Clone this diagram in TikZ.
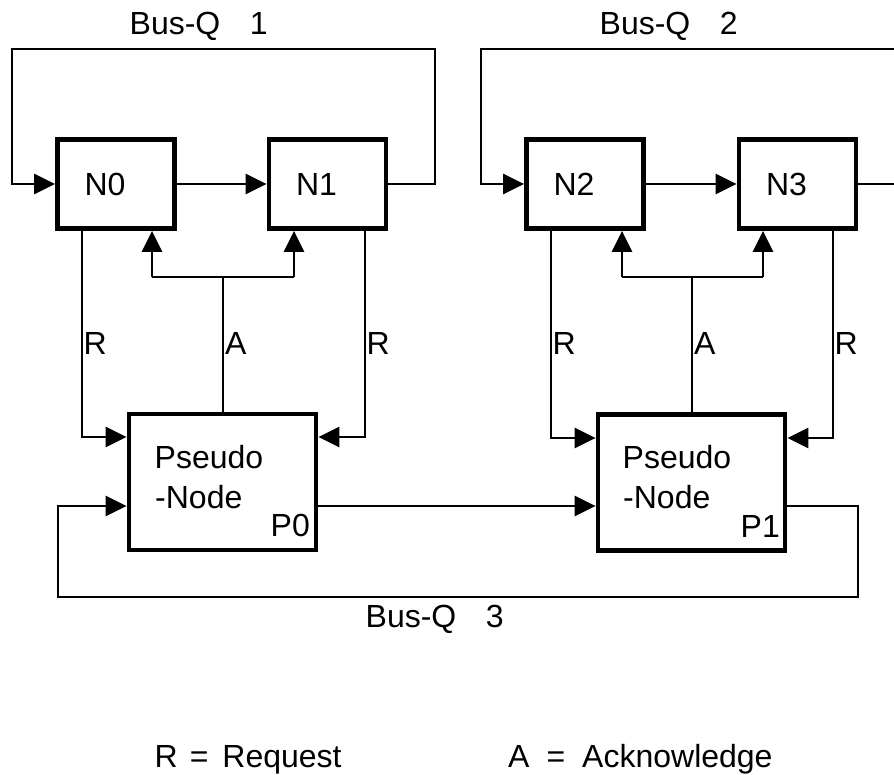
\documentclass[tikz,border=0pt]{standalone}
\usepackage{fontspec}
\setmainfont{Liberation Sans}
\usetikzlibrary{arrows.meta}
\begin{document}
\begin{tikzpicture}[x=1pt,y=-1pt,
  conn/.style={line width=2.6pt},
  arr/.style={conn,-{Triangle[length=21pt,width=20pt]}},
  unit/.style={draw,line width=4.8pt,minimum height=89pt,text width=63pt,
    inner xsep=27pt,inner ysep=0pt,align=left,font=\fontsize{32}{38}\selectfont},
  pseudo/.style={draw,line width=4.8pt,minimum width=187pt,minimum height=136pt,inner sep=0pt},
  txt/.style={font=\fontsize{32}{38}\selectfont,inner sep=0pt,anchor=base west}]
\useasboundingbox (0,0) rectangle (894,775);

% processing nodes
\node[unit] (n0) at (116,184) {N0};
\node[unit] (n1) at (327.5,184) {N1};
\node[unit] (n2) at (585,184) {N2};
\node[unit] (n3) at (797.5,184) {N3};

% pseudo-nodes
\node[pseudo] (p0) at (222.5,482) {};
\node[pseudo] (p1) at (691.5,482.5) {};
\node[txt] (p0a) at (154.5,468) {Pseudo};
\node[txt] (p0b) at (155,508) {-Node};
\node[txt] (p0c) at (270.5,536) {P0};
\node[txt] (p1a) at (622.5,468) {Pseudo};
\node[txt] (p1b) at (623,508) {-Node};
\node[txt] (p1c) at (740.5,537) {P1};

% bus loop 1
\coordinate (q1l) at (12,49);
\coordinate (q1r) at (435,49);
\draw[arr] (n0.east) -- (n1.west);
\draw[arr] (n1.east) -| (q1r) -- (q1l) |- (n0.west);
\node[txt] (bq1) at (129.5,35) {Bus-Q\hspace{0.92em}1};

% bus loop 2 (continues past the right edge)
\coordinate (q2e) at (894,49);
\coordinate (q2l) at (481,49);
\coordinate (q2x) at (894,184);
\draw[arr] (n2.east) -- (n3.west);
\draw[conn] (n3.east) -- (q2x);
\draw[arr] (q2e) -- (q2l) |- (n2.west);
\node[txt] (bq2) at (599.5,35) {Bus-Q\hspace{0.92em}2};

% bus loop 3
\coordinate (b3y) at (0,506);
\coordinate (b3r) at (858,597);
\coordinate (b3l) at (58,597);
\draw[arr] (p0.east |- b3y) -- (p1.west |- b3y);
\draw[arr] (p1.east |- b3y) -| (b3r) -- (b3l) |- (p0.west |- b3y);
\node[txt] (bq3) at (365.5,627) {Bus-Q\hspace{0.92em}3};

% request / acknowledge lines, left group
\coordinate (r0l) at (82,437);
\coordinate (r0r) at (365,437);
\coordinate (a0) at (223,277);
\coordinate (a0l) at (152,277);
\coordinate (a0r) at (294,277);
\draw[arr] (n0.south -| r0l) |- (p0.west |- r0l);
\draw[arr] (n1.south -| r0r) |- (p0.east |- r0r);
\draw[conn] (p0.north -| a0) -- (a0);
\draw[conn] (a0l) -- (a0r);
\draw[arr] (a0l) -- (n0.south -| a0l);
\draw[arr] (a0r) -- (n1.south -| a0r);
\node[txt] (lr0) at (83.5,355) {R};
\node[txt] (la0) at (225,355) {A};
\node[txt] (lr1) at (366.5,355) {R};

% request / acknowledge lines, right group
\coordinate (r1l) at (551,438);
\coordinate (r1r) at (833,438);
\coordinate (a1) at (692,277);
\coordinate (a1l) at (622,277);
\coordinate (a1r) at (763,277);
\draw[arr] (n2.south -| r1l) |- (p1.west |- r1l);
\draw[arr] (n3.south -| r1r) |- (p1.east |- r1r);
\draw[conn] (p1.north -| a1) -- (a1);
\draw[conn] (a1l) -- (a1r);
\draw[arr] (a1l) -- (n2.south -| a1l);
\draw[arr] (a1r) -- (n3.south -| a1r);
\node[txt] (lr2) at (552.5,355) {R};
\node[txt] (la1) at (694,355) {A};
\node[txt] (lr3) at (834.5,355) {R};

% legend
\node[txt] (key1) at (154.5,767) {R\hspace{12pt}=\hspace{14pt}Request};
\node[txt] (key2) at (508,767) {A\hspace{17pt}=\hspace{17pt}Acknowledge};
\end{tikzpicture}
\end{document}
